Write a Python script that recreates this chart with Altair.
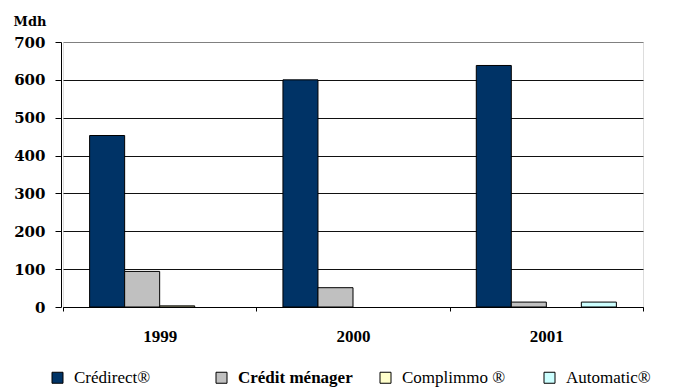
import altair as alt
import pandas as pd

years = ["1999", "2000", "2001"]
series = ["Crédirect®", "Crédit ménager", "Complimmo ®", "Automatic®"]
colors = ["#003366", "#C0C0C0", "#FFFFCC", "#CCFFFF"]
credirect = [453, 600, 638]
credit_menager = [94, 51, 13]
complimmo = [3, 0, 0]
automatic = [0, 0, 13]
y_ticks = [0, 100, 200, 300, 400, 500, 600, 700]

rows = []
for s, vals in zip(series, [credirect, credit_menager, complimmo, automatic]):
    for yr, v in zip(years, vals):
        if v > 0:
            rows.append({"year": yr, "series": s, "value": v})
df = pd.DataFrame(rows)

chart = alt.Chart(df).mark_bar(stroke="black", strokeWidth=1).encode(
    x=alt.X("year:N", sort=years,
            scale=alt.Scale(paddingInner=0, paddingOuter=0),
            axis=alt.Axis(title=None, labelAngle=0, domainColor="black", domainWidth=1,
                          tickColor="black", tickSize=4, tickBand="extent",
                          labelFont="Liberation Serif", labelFontWeight="bold",
                          labelFontSize=17, labelColor="black", labelPadding=17,
                          grid=False)),
    xOffset=alt.XOffset("series:N", sort=series,
                        scale=alt.Scale(domain=series, paddingInner=0, paddingOuter=0.76)),
    y=alt.Y("value:Q",
            scale=alt.Scale(domain=[0, 700], nice=False),
            axis=alt.Axis(values=y_ticks, title="Mdh", titleAngle=0,
                          titleX=-48, titleY=-17, titleAlign="left",
                          titleBaseline="alphabetic",
                          titleFont="DejaVu Serif", titleFontWeight="bold",
                          titleFontSize=13, titleColor="black",
                          labelFont="DejaVu Serif", labelFontWeight="bold",
                          labelFontSize=15, labelColor="black", labelPadding=10,
                          domainColor="black", tickColor="black", tickSize=6,
                          offset=2,
                          gridColor={"condition": {"test": "datum.value == 700", "value": "#808080"},
                                     "value": "#111111"},
                          gridWidth=1)),
    color=alt.Color("series:N", sort=series,
                    scale=alt.Scale(domain=series, range=colors),
                    legend=alt.Legend(title=None, orient="none", legendX=-14, legendY=327,
                                      direction="horizontal", columns=4, gridAlign="all",
                                      columnPadding=24, symbolType="square", symbolSize=121,
                                      symbolStrokeColor="black", symbolStrokeWidth=1,
                                      labelFont="Liberation Serif", labelFontSize=17,
                                      labelColor="black", labelLimit=300, labelOffset=8,
                                      labelFontWeight={"expr": "datum.value == 'Crédit ménager' ? 'bold' : 'normal'"})),
).properties(
    width=580, height=265,
    autosize=alt.AutoSizeParams(type="none"),
    padding={"left": 63, "top": 42, "right": 32, "bottom": 82},
).configure_view(
    stroke="#808080", strokeWidth=2
).configure(background="white")

chart.save("out.html", embed_options={"renderer": "svg", "actions": False})
